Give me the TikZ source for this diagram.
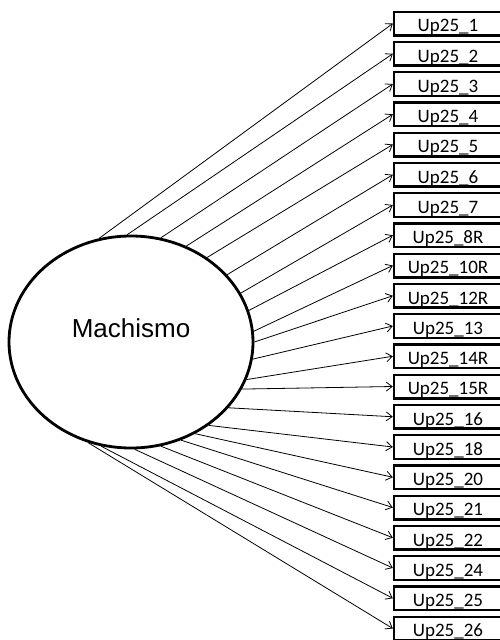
\documentclass[tikz,border=0pt]{standalone}
\usepackage{fontspec}
\setmainfont{Carlito}
\newfontfamily\arialfont{Liberation Sans}
\usetikzlibrary{shapes.geometric,arrows.meta}

\tikzset{
  item/.style={draw,line width=2.4pt,minimum width=108pt,minimum height=23.6pt,
    inner sep=0pt,text height=16.5pt,text depth=0pt,font=\fontsize{19}{22}\selectfont},
  latent/.style={draw,ellipse,line width=2.8pt,minimum width=244pt,minimum height=212pt,inner sep=0pt},
  load/.style={line width=0.8pt,-{Straight Barb[length=6pt,width=9pt]}}
}

\begin{document}
\begin{tikzpicture}[x=1pt,y=-1pt]
\useasboundingbox (0,0) rectangle (499,640);

\node[latent,label={[font=\arialfont\fontsize{26}{30}\selectfont,yshift=14pt]center:Machismo}] (lat) at (131,342) {};

% indicators, one per row
\foreach \ang/\lbl [count=\i from 0] in {107.1/1,92.1/2,74.6/3,60.3/4,48.3/5,35.6/6,24.4/7,15.3/8R,
  5.6/10R,-0.5/12R,-8.0/13,-18.0/14R,-23.3/15R,-34.0/16,-47.7/18,-55.6/20,-63.9/21,
  -74.6/22,-88.9/24,-106.4/25,-113.3/26}
{
\node[item] (up\lbl) at (448,{23.5+30.25*\i}) {Up25\_\lbl};
\draw[load] (lat.\ang) -- (up\lbl.west);
}
\end{tikzpicture}
\end{document}
